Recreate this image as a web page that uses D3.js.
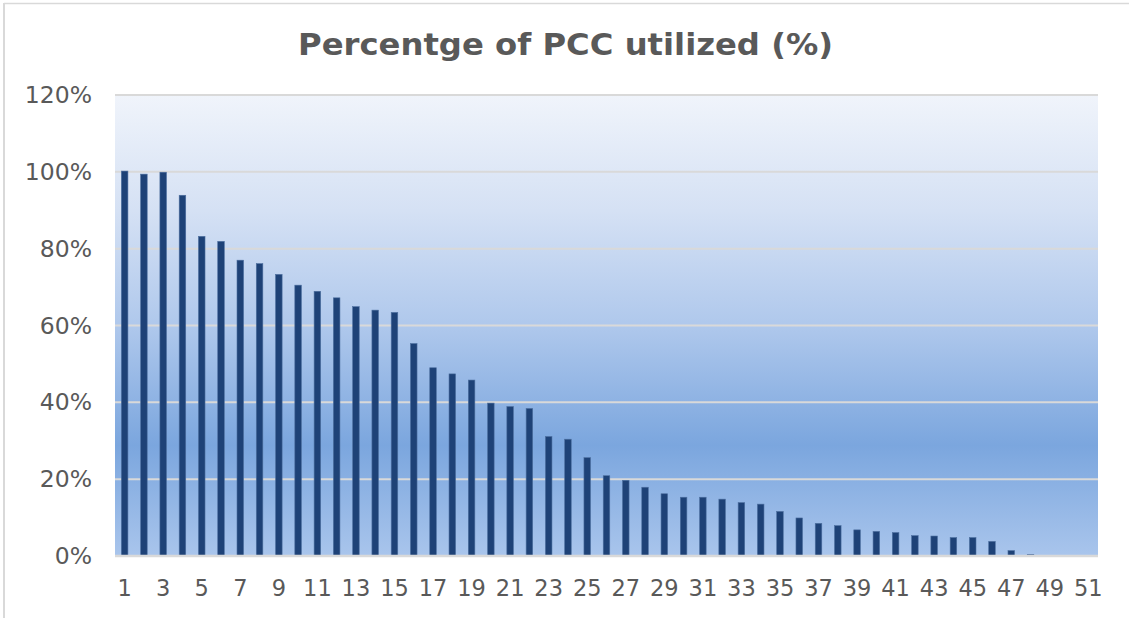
<!DOCTYPE html>
<html>
<head>
<meta charset="utf-8">
<script src="https://cdn.jsdelivr.net/npm/d3@7"></script>
<style>
  body { margin: 0; background: #fff; }
  .tick text { font-family: "DejaVu Sans", sans-serif; fill: #595959; }
</style>
</head>
<body>
<div id="chart"></div>
<script>
// data
const categories = d3.range(1, 52);
const utilized = [
  100.2, 99.4, 99.9, 93.9, 83.2, 81.9, 77.0, 76.1, 73.3, 70.5,
  68.9, 67.2, 64.9, 64.0, 63.4, 55.3, 49.0, 47.4, 45.8, 39.8,
  38.9, 38.4, 31.1, 30.4, 25.6, 20.9, 19.7, 17.9, 16.2, 15.3,
  15.3, 14.8, 13.9, 13.5, 11.6, 9.9, 8.5, 7.9, 6.8, 6.4,
  6.1, 5.3, 5.2, 4.8, 4.8, 3.8, 1.4, 0.4, 0, 0,
  0
];
const yTicks = [0, 20, 40, 60, 80, 100, 120];
const xTicks = categories.filter(d => d % 2 === 1);

const W = 1129, H = 618;
const margin = { top: 95, right: 31, bottom: 62, left: 115 };
const width = W - margin.left - margin.right;
const height = H - margin.top - margin.bottom;

const root = d3.select("#chart")
  .append("svg")
  .attr("width", W)
  .attr("height", H);

// chart frame (only top + left edges show)
root.append("line")
  .attr("x1", 4).attr("x2", W).attr("y1", 3.5).attr("y2", 3.5)
  .attr("stroke", "#d9d9d9").attr("stroke-width", 1.5);
root.append("line")
  .attr("x1", 4).attr("x2", 4).attr("y1", 3).attr("y2", H)
  .attr("stroke", "#d9d9d9").attr("stroke-width", 2);

// title (reference glyphs are a bit wider than DejaVu, so stretch to its width)
root.append("text")
  .attr("x", 298)
  .attr("y", 55)
  .attr("textLength", 535)
  .attr("lengthAdjust", "spacingAndGlyphs")
  .attr("font-family", "DejaVu Sans, sans-serif")
  .attr("font-weight", "bold")
  .attr("font-size", "30px")
  .attr("fill", "#595959")
  .text("Percentge of PCC utilized (%)");

// plot background gradient
const grad = root.append("defs").append("linearGradient")
  .attr("id", "bg")
  .attr("x1", 0).attr("y1", 0).attr("x2", 0).attr("y2", 1);
[["0%", "#f0f4fb"], ["25%", "#d5e1f4"], ["50%", "#afc8ec"], ["76%", "#7ba6de"], ["100%", "#a9c5ec"]]
  .forEach(s => grad.append("stop").attr("offset", s[0]).attr("stop-color", s[1]));

const svg = root.append("g")
  .attr("transform", "translate(" + margin.left + "," + margin.top + ")");

svg.append("rect")
  .attr("width", width)
  .attr("height", height)
  .attr("fill", "url(#bg)");

const x = d3.scaleBand()
  .domain(categories)
  .range([0, width])
  .paddingInner(0.66)
  .paddingOuter(0.33);

const y = d3.scaleLinear()
  .domain([0, 120])
  .range([height, 0]);

// gridlines
svg.selectAll(".grid")
  .data(yTicks.filter(d => d > 0))
  .enter().append("line")
  .attr("class", "grid")
  .attr("x1", 0).attr("x2", width)
  .attr("y1", d => y(d)).attr("y2", d => y(d))
  .attr("stroke", "#d9d9d9")
  .attr("stroke-width", 2);

// bars
svg.selectAll(".bar")
  .data(utilized)
  .enter().append("rect")
  .attr("class", "bar")
  .attr("x", (d, i) => x(categories[i]))
  .attr("y", d => y(d))
  .attr("width", x.bandwidth())
  .attr("height", d => height - y(d))
  .attr("fill", "#1e4277")
  .attr("stroke", "#4d6f9f")
  .attr("stroke-width", 0.6);

// baseline
svg.append("line")
  .attr("x1", 0).attr("x2", width)
  .attr("y1", height).attr("y2", height)
  .attr("stroke", "#d9d9d9")
  .attr("stroke-width", 2.5);

// Y axis
svg.append("g")
  .call(d3.axisLeft(y).tickValues(yTicks).tickSize(0).tickPadding(23).tickFormat(d => d + "%"))
  .call(g => g.select(".domain").remove())
  .selectAll("text")
  .attr("font-size", "23.5px");

// X axis
svg.append("g")
  .attr("transform", "translate(0," + height + ")")
  .call(d3.axisBottom(x).tickValues(xTicks).tickSize(0).tickPadding(24))
  .call(g => g.select(".domain").remove())
  .selectAll("text")
  .attr("font-size", "22.5px");
</script>
</body>
</html>
